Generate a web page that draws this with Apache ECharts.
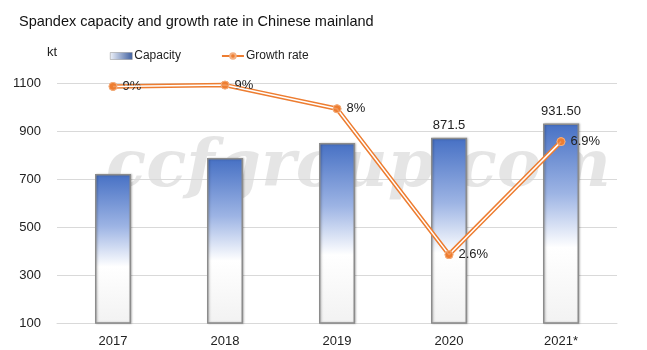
<!DOCTYPE html>
<html>
<head>
<meta charset="utf-8">
<script src="https://cdn.jsdelivr.net/npm/echarts@6/dist/echarts.min.js"></script>
<style>
  html, body { margin: 0; padding: 0; background: #fff; }
  #main { width: 647px; height: 350px; }
</style>
</head>
<body>
<div id="main"></div>
<script>
// data
var years = ['2017', '2018', '2019', '2020', '2021*'];
var capacity = [721, 787, 850, 871.5, 931.5];
var capacityLabels = ['', '', '', '871.5', '931.50'];
var growth = [9.0, 9.05, 8.15, 2.6, 6.9];
var growthLabels = ['9%', '9%', '8%', '2.6%', '6.9%'];
var yTicks = [100, 300, 500, 700, 900, 1100];

var font = "'Liberation Sans', sans-serif";
var myChart = echarts.init(document.getElementById('main'));

var barColor = new echarts.graphic.LinearGradient(0, 0, 0, 1, [
    { offset: 0, color: '#4670c4' },
    { offset: 0.35, color: '#9db4e4' },
    { offset: 0.62, color: '#ffffff' },
    { offset: 1, color: '#f2f2f2' }
]);

var option = {
    backgroundColor: '#fff',
    textStyle: { fontFamily: font },
    title: {
        text: 'Spandex capacity and growth rate in Chinese mainland',
        left: 14, top: 9,
        textStyle: { fontSize: 14.5, fontWeight: 'normal', color: '#111', fontFamily: font }
    },
    graphic: [{
        type: 'text', left: 106, top: 136, z: 0, silent: true,
        style: {
            text: 'ccfgroup.com',
            font: 'italic bold 66px "DejaVu Serif", serif',
            fill: 'rgba(0,0,0,0.10)'
        }
    }],
    legend: {
        top: 45, left: 105, itemGap: 40, itemWidth: 22, itemHeight: 7,
        textStyle: { fontSize: 12, color: '#222', fontFamily: font, padding: [0, 0, 0, -3] },
        data: [
            { name: 'Capacity', icon: 'rect', itemStyle: { borderColor: '#8c8c8c', borderWidth: 0.5, color: new echarts.graphic.LinearGradient(0, 0, 1, 0, [{ offset: 0, color: '#eef2fa' }, { offset: 1, color: '#3f5f9f' }]) } },
            { name: 'Growth rate' }
        ]
    },
    grid: { left: 57, right: 30, top: 83, bottom: 27 },
    xAxis: {
        type: 'category',
        data: years,
        axisTick: { show: false },
        axisLine: { lineStyle: { color: '#d9d9d9' } },
        axisLabel: { fontSize: 13, color: '#222', margin: 12, fontFamily: font }
    },
    yAxis: [{
        type: 'value', min: 100, max: 1100, interval: 200,
        name: 'kt', nameLocation: 'end', nameGap: 24,
        nameTextStyle: { fontSize: 13, color: '#222', align: 'right', padding: [0, 0, 0, 0] },
        axisLabel: {
            fontSize: 13, color: '#222', margin: 16, fontFamily: font,
            formatter: function (v) { return yTicks.indexOf(v) >= 0 ? v : ''; }
        },
        splitLine: { lineStyle: { color: '#d9d9d9' } },
        axisLine: { show: false }, axisTick: { show: false }
    }, {
        type: 'value', min: 0, max: 9.13, show: false, splitLine: { show: false }
    }],
    series: [{
        name: 'Capacity',
        type: 'bar',
        barWidth: 36,
        data: capacity,
        itemStyle: {
            color: barColor,
            borderColor: '#8c8c8c',
            borderWidth: 1.5,
            shadowColor: 'rgba(0,0,0,0.25)', shadowBlur: 2, shadowOffsetX: 1
        },
        label: {
            show: true, position: 'top', distance: 6,
            fontSize: 13, color: '#222', fontFamily: font,
            formatter: function (p) { return capacityLabels[p.dataIndex]; }
        },
        z: 2
    }, {
        name: 'Growth rate',
        type: 'line',
        yAxisIndex: 1,
        data: growth,
        color: '#ed7d31',
        lineStyle: { color: '#ed7d31', width: 4.5 },
        symbol: 'circle', symbolSize: 8,
        itemStyle: { color: '#ed7d31', borderColor: '#f4b183', borderWidth: 1 },
        label: {
            show: true, position: 'right', distance: 5,
            fontSize: 13, color: '#222', fontFamily: font,
            formatter: function (p) { return growthLabels[p.dataIndex]; }
        },
        z: 3
    }, {
        name: 'inner',
        type: 'line',
        yAxisIndex: 1,
        data: growth,
        lineStyle: { color: '#ffffff', width: 1.5 },
        symbol: 'none',
        z: 4,
        silent: true
    }, {
        name: 'points',
        type: 'scatter',
        yAxisIndex: 1,
        data: growth,
        symbolSize: 8,
        itemStyle: { color: '#ed7d31', borderColor: '#f4b183', borderWidth: 1 },
        z: 5,
        silent: true
    }]
};

myChart.setOption(option);
</script>
</body>
</html>
